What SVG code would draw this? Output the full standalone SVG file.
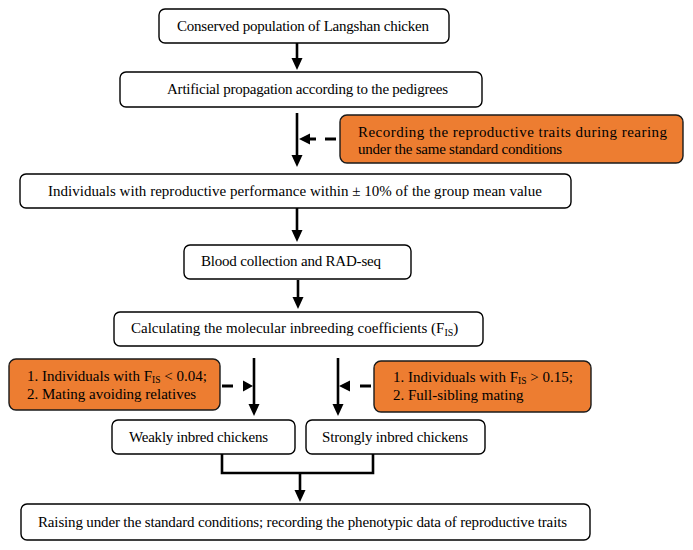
<svg xmlns="http://www.w3.org/2000/svg" width="693" height="550" viewBox="0 0 693 550">
<defs>
<style>
.box{fill:#fff;stroke:#000;stroke-width:1.4}
.obox{fill:#ED7D31;stroke:#1a1a1a;stroke-width:1.4}
.t{font-family:"Liberation Serif","Times New Roman",serif;font-size:15px;fill:#000}
.ln{stroke:#000;stroke-width:2.6;fill:none}
.ds{stroke:#000;stroke-width:3;fill:none}
</style>
<marker id="ah" markerUnits="userSpaceOnUse" markerWidth="14" markerHeight="12" refX="4" refY="5.5" orient="auto">
<path d="M0,0 L12,5.5 L0,11 z" fill="#000"/>
</marker>
</defs>
<rect width="693" height="550" fill="#fff"/>
<g id="n1"><rect class="box" x="159" y="9" width="290" height="34" rx="6"/><text class="t" x="177" y="31" textLength="252">Conserved population of Langshan chicken</text></g>
<g id="n2"><rect class="box" x="120" y="72" width="362" height="35" rx="6"/><text class="t" x="167" y="94" textLength="281">Artificial propagation according to the pedigrees</text></g>
<g id="n3"><rect class="obox" x="340" y="115" width="343" height="48" rx="7"/><text class="t" x="358" y="137" textLength="309">Recording the reproductive traits during rearing</text><text class="t" x="358" y="154" textLength="204">under the same standard conditions</text></g>
<g id="n4"><rect class="box" x="20" y="174" width="551" height="34" rx="6"/><text class="t" x="48" y="196" textLength="494">Individuals with reproductive performance within ± 10% of the group mean value</text></g>
<g id="n5"><rect class="box" x="184" y="245" width="227" height="34" rx="6"/><text class="t" x="201" y="266" textLength="180">Blood collection and RAD-seq</text></g>
<g id="n6"><rect class="box" x="114" y="312" width="369" height="34" rx="6"/><text class="t" x="131" y="333">Calculating the molecular inbreeding coefficients (F<tspan font-size="10" dy="3">IS</tspan><tspan dy="-3">)</tspan></text></g>
<g id="n7"><rect class="obox" x="9" y="359" width="211" height="51" rx="7"/><text class="t" x="27" y="381">1. Individuals with F<tspan font-size="9.5" dy="2">IS</tspan><tspan dy="-2"> &lt; 0.04;</tspan></text><text class="t" x="27" y="399">2. Mating avoiding relatives</text></g>
<g id="n8"><rect class="obox" x="374" y="361" width="217" height="51" rx="7"/><text class="t" x="393" y="382">1. Individuals with F<tspan font-size="9.5" dy="2">IS</tspan><tspan dy="-2"> &gt; 0.15;</tspan></text><text class="t" x="393" y="400">2. Full-sibling mating</text></g>
<g id="n9"><rect class="box" x="112" y="420" width="183" height="34" rx="6"/><text class="t" x="129" y="442" textLength="139">Weakly inbred chickens</text></g>
<g id="n10"><rect class="box" x="306" y="420" width="179" height="34" rx="6"/><text class="t" x="322" y="442" textLength="146">Strongly inbred chickens</text></g>
<g id="n11"><rect class="box" x="21" y="504" width="569" height="36" rx="6"/><text class="t" x="38" y="527" textLength="529">Raising under the standard conditions; recording the phenotypic data of reproductive traits</text></g>
<g id="connectors">
<line class="ln" x1="297" y1="43" x2="297" y2="62" marker-end="url(#ah)"/>
<line class="ln" x1="297" y1="113" x2="297" y2="159" marker-end="url(#ah)"/>
<line class="ln" x1="297" y1="208" x2="297" y2="234" marker-end="url(#ah)"/>
<line class="ln" x1="298" y1="280" x2="298" y2="301" marker-end="url(#ah)"/>
<line class="ln" x1="254" y1="358" x2="254" y2="408" marker-end="url(#ah)"/>
<line class="ln" x1="338" y1="358" x2="338" y2="408" marker-end="url(#ah)"/>
<polyline class="ln" points="222,454 222,473 373,473 373,454"/>
<line class="ln" x1="300" y1="473" x2="300" y2="494" marker-end="url(#ah)"/>
<line class="ds" x1="325" y1="139" x2="336" y2="139"/>
<line class="ds" x1="308" y1="139" x2="316" y2="139"/>
<path d="M299,139 L310,133.5 L310,144.5 z" fill="#000"/>
<line class="ds" x1="222" y1="386" x2="233" y2="386"/>
<path d="M253,386 L243,380.5 L243,391.5 z" fill="#000"/>
<line class="ds" x1="360" y1="386" x2="371" y2="386"/>
<path d="M339,386 L350,380.5 L350,391.5 z" fill="#000"/>
</g>
</svg>
